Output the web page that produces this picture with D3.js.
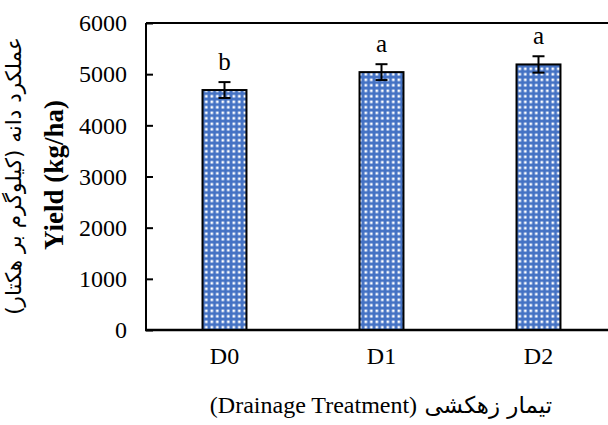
<!DOCTYPE html>
<html><head><meta charset="utf-8">
<script src="https://cdn.jsdelivr.net/npm/d3@7"></script>
<style>
body{margin:0;background:#fff}svg{display:block}
.ser{font-family:"Liberation Serif","Times New Roman",Times,serif;}
.fa{font-family:"DejaVu Sans",sans-serif;}
</style>
</head><body>
<svg id="c" width="608" height="425"></svg>
<script>
const categories = ["D0", "D1", "D2"];
const yieldValues = [4690, 5040, 5190];
const errorValues = [155, 155, 160];
const groupLetters = ["b", "a", "a"];
const yTicks = [0, 1000, 2000, 3000, 4000, 5000, 6000];

const svg = d3.select("#c");
const mLeft = 146, mTop = 23, mBottom = 330, mRight = 617;
const x = d3.scaleBand().domain(categories).range([mLeft, mRight]).paddingInner(0.72).paddingOuter(0.36);
const y = d3.scaleLinear().domain([0, 6000]).range([mBottom, mTop]);

const defs = svg.append("defs");
const pat = defs.append("pattern").attr("id", "dots").attr("patternUnits", "userSpaceOnUse")
  .attr("width", 5.5).attr("height", 5.5);
pat.append("rect").attr("width", 5.5).attr("height", 5.5).attr("fill", "#4472C4");
pat.append("rect").attr("x", 1.5).attr("y", 1.5).attr("width", 2.6).attr("height", 2.6).attr("fill", "#fff");

svg.append("line").attr("x1", mLeft).attr("x2", 608).attr("y1", mTop).attr("y2", mTop)
  .attr("stroke", "#000").attr("stroke-width", 2);

svg.selectAll("rect.bar").data(categories).join("rect").attr("class", "bar")
  .attr("x", d => x(d)).attr("width", x.bandwidth())
  .attr("y", (d, i) => y(yieldValues[i])).attr("height", (d, i) => y(0) - y(yieldValues[i]))
  .attr("fill", "url(#dots)").attr("stroke", "#000").attr("stroke-width", 2);

const eb = svg.selectAll("g.eb").data(categories).join("g").attr("class", "eb")
  .attr("stroke", "#000").attr("stroke-width", 2);
eb.append("line").attr("x1", d => x(d) + x.bandwidth() / 2).attr("x2", d => x(d) + x.bandwidth() / 2)
  .attr("y1", (d, i) => y(yieldValues[i] + errorValues[i])).attr("y2", (d, i) => y(yieldValues[i] - errorValues[i]));
[1, -1].forEach(s => {
  eb.append("line").attr("x1", d => x(d) + x.bandwidth() / 2 - 6).attr("x2", d => x(d) + x.bandwidth() / 2 + 6)
    .attr("y1", (d, i) => y(yieldValues[i] + s * errorValues[i])).attr("y2", (d, i) => y(yieldValues[i] + s * errorValues[i]));
});

svg.selectAll("text.lt").data(categories).join("text").attr("class", "lt ser")
  .attr("x", d => x(d) + x.bandwidth() / 2)
  .attr("y", (d, i) => y(yieldValues[i] + errorValues[i]) - 12)
  .attr("text-anchor", "middle").style("font-size", "25px")
  .text((d, i) => groupLetters[i]);

const yAxis = svg.append("g").attr("transform", `translate(${mLeft},0)`)
  .call(d3.axisRight(y).tickValues(yTicks).tickSize(7).tickFormat(d3.format("d")));
yAxis.attr("font-family", null).attr("font-size", null);
yAxis.select(".domain").attr("stroke-width", 2).attr("d", `M0,${mTop}V${mBottom}`);
yAxis.selectAll(".tick line").attr("stroke-width", 2);
yAxis.selectAll(".tick text").attr("class", "ser").attr("x", -19).attr("text-anchor", "end")
  .style("font-size", "24px").attr("fill", "#000");

const xAxis = svg.append("g").attr("transform", `translate(0,${mBottom})`)
  .call(d3.axisBottom(x).tickSize(0).tickPadding(16));
xAxis.attr("font-family", null).attr("font-size", null);
xAxis.select(".domain").attr("stroke-width", 2.5).attr("d", `M${mLeft - 1},0H608`);
xAxis.selectAll(".tick text").attr("class", "ser").style("font-size", "24px").attr("fill", "#000").attr("dy", "0.75em");

svg.append("text").attr("class", "ser").attr("transform", "translate(63,175) rotate(-90)")
  .attr("text-anchor", "middle").style("font-size", "27px").style("font-weight", "bold")
  .text("Yield (kg/ha)");
svg.append("text").attr("class", "fa").attr("transform", "translate(21,176) rotate(-90)")
  .attr("text-anchor", "middle").style("font-size", "21.5px")
  .attr("direction", "rtl")
  .text("عملکرد دانه (کیلوگرم بر هکتار)");
const xt = svg.append("text").attr("x", 381).attr("y", 413).attr("text-anchor", "middle");
xt.append("tspan").attr("class", "ser").style("font-size", "24px").text("(Drainage Treatment)");
xt.append("tspan").attr("class", "fa").style("font-size", "23px").text("  تیمار زهکشی");
</script>
</body></html>
